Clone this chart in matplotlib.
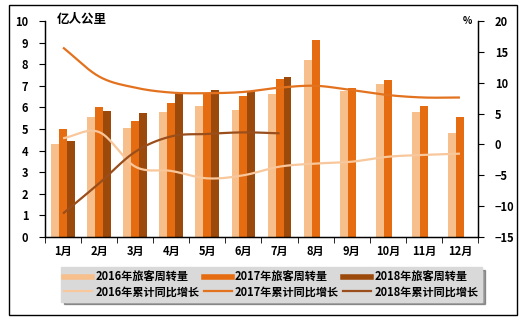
import matplotlib.pyplot as plt
import numpy as np
from matplotlib.lines import Line2D
from matplotlib.patches import Rectangle

plt.rcParams['font.family'] = ['Noto Sans CJK SC', 'DejaVu Sans']

months = ['1月', '2月', '3月', '4月', '5月', '6月', '7月', '8月', '9月', '10月', '11月', '12月']

# 旅客周转量, 亿人公里
volume_2016 = [4.3, 5.55, 5.05, 5.8, 6.05, 5.9, 6.6, 8.2, 6.78, 7.08, 5.8, 4.83]
volume_2017 = [5.0, 6.0, 5.35, 6.2, 6.6, 6.55, 7.3, 9.12, 6.9, 7.27, 6.06, 5.57]
volume_2018 = [4.45, 5.85, 5.75, 6.65, 6.8, 6.75, 7.4]

# 累计同比增长, %
growth_2016 = [1.0, 2.0, -3.6, -4.3, -5.5, -5.0, -3.6, -3.1, -2.8, -2.0, -1.7, -1.5]
growth_2017 = [15.7, 11.0, 9.2, 8.4, 8.3, 8.5, 9.2, 9.5, 8.8, 8.0, 7.6, 7.6]
growth_2018 = [-11.2, -6.3, -1.2, 1.3, 1.7, 1.95, 1.8]

c16_bar, c17_bar, c18_bar = '#F7BF8C', '#E56C10', '#9C4A0C'
c16_line, c17_line, c18_line = '#F8C79B', '#E3721F', '#9A4E1C'


def smooth(xs, ys, steps=20):
    # Catmull-Rom spline through the points, like Excel's smoothed line
    xs = np.asarray(xs, float)
    ys = np.asarray(ys, float)
    px = np.concatenate([[2 * xs[0] - xs[1]], xs, [2 * xs[-1] - xs[-2]]])
    py = np.concatenate([[2 * ys[0] - ys[1]], ys, [2 * ys[-1] - ys[-2]]])
    out_x, out_y = [], []
    t = np.linspace(0, 1, steps, endpoint=False)
    for i in range(1, len(px) - 2):
        for arr, out in ((px, out_x), (py, out_y)):
            p0, p1, p2, p3 = arr[i - 1], arr[i], arr[i + 1], arr[i + 2]
            out.extend(0.5 * (2 * p1 + (-p0 + p2) * t
                              + (2 * p0 - 5 * p1 + 4 * p2 - p3) * t ** 2
                              + (-p0 + 3 * p1 - 3 * p2 + p3) * t ** 3))
    out_x.append(xs[-1])
    out_y.append(ys[-1])
    return out_x, out_y


fig = plt.figure(figsize=(5.27, 3.25), dpi=100)
ax = fig.add_axes([0.0854, 0.2708, 0.8216, 0.6646])
ax2 = ax.twinx()

x = np.arange(len(months))
w = 0.22
ax.bar(x - w, volume_2016, w, color=c16_bar)
ax.bar(x, volume_2017, w, color=c17_bar)
ax.bar(x[:len(volume_2018)] + w, volume_2018, w, color=c18_bar)

for vals, col in ((growth_2016, c16_line), (growth_2017, c17_line), (growth_2018, c18_line)):
    sx, sy = smooth(x[:len(vals)], vals)
    ax2.plot(sx, sy, color=col, lw=1.6, solid_capstyle='butt')

ax.set_xlim(-0.5, 11.5)
ax.set_ylim(0, 10)
ax.set_yticks(range(0, 11))
ax2.set_ylim(-15, 20)
ax2.set_yticks(range(-15, 21, 5))

ax.set_xticks(x)
ax.set_xticklabels(months)
ax.set_xticks(np.arange(-0.5, 12, 1), minor=True)
ax.tick_params(axis='x', which='major', length=0, pad=6)
ax.tick_params(axis='x', which='minor', length=4, direction='out')
ax.tick_params(axis='y', length=4, direction='out', pad=8)
ax2.tick_params(axis='y', length=4, direction='out', pad=8)

for a in (ax, ax2):
    a.spines['top'].set_visible(False)
    for s in a.spines.values():
        s.set_linewidth(0.9)
    for lbl in a.get_yticklabels() + a.get_xticklabels():
        lbl.set_fontsize(8)
        lbl.set_fontweight('bold')

fig.text(0.108, 0.94, '亿人公里', fontsize=9, fontweight='bold', va='center')
fig.text(0.878, 0.935, '%', fontsize=7, fontweight='bold', va='center')

handles = [
    Line2D([], [], color=c16_bar, lw=4), Line2D([], [], color=c16_line, lw=1.6),
    Line2D([], [], color=c17_bar, lw=4), Line2D([], [], color=c17_line, lw=1.6),
    Line2D([], [], color=c18_bar, lw=4), Line2D([], [], color=c18_line, lw=1.6),
]
labels = ['2016年旅客周转量', '2016年累计同比增长',
          '2017年旅客周转量', '2017年累计同比增长',
          '2018年旅客周转量', '2018年累计同比增长']
leg = fig.legend(handles, labels, ncol=3, loc='center', bbox_to_anchor=(0.515, 0.125),
                 frameon=True, fancybox=False, shadow=True, handlelength=2.5,
                 handletextpad=0.3, columnspacing=0.4, labelspacing=0.15,
                 borderpad=0.3, prop={'size': 8, 'weight': 'bold'})
leg.get_frame().set_facecolor('#D9D9D9')
leg.get_frame().set_edgecolor('#D9D9D9')

# outer chart frame
fig.patches.append(Rectangle((9 / 527, 1 - 315 / 325), 508 / 527, 310 / 325,
                             transform=fig.transFigure, fill=False,
                             edgecolor='black', lw=1))

fig.savefig('out.png', dpi=100)
